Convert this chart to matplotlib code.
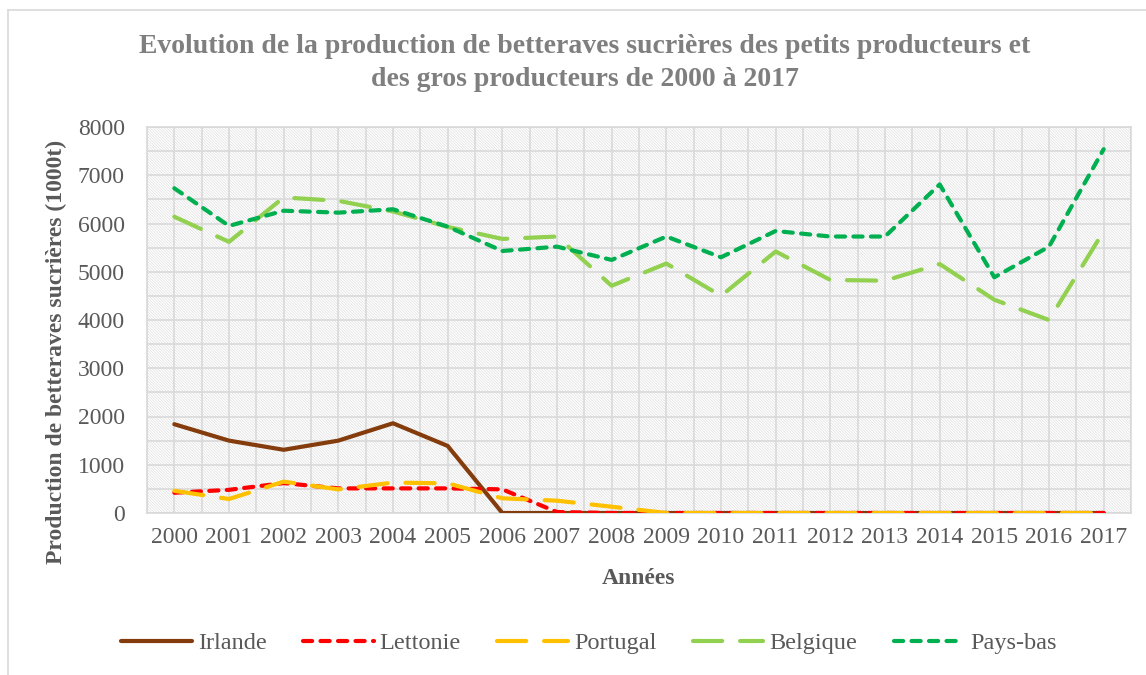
import matplotlib
matplotlib.use("Agg")
import matplotlib.pyplot as plt
from matplotlib.patches import Rectangle
from matplotlib.lines import Line2D
import numpy as np

# data (1000 t)
years = [str(y) for y in range(2000, 2018)]
irlande = [1840, 1500, 1310, 1500, 1860, 1390, 0, 0, 0, 0, 0, 0, 0, 0, 0, 0, 0, 0]
lettonie = [420, 480, 620, 510, 510, 510, 490, 20, 0, 0, 0, 0, 0, 0, 0, 0, 0, 0]
portugal = [460, 290, 650, 490, 630, 615, 305, 255, 130, 0, 0, 0, 0, 0, 0, 0, 0, 0]
belgique = [6140, 5620, 6540, 6470, 6250, 5930, 5680, 5730, 4710, 5170,
            4500, 5420, 4830, 4815, 5160, 4420, 4000, 5840]
pays_bas = [6730, 5950, 6265, 6225, 6295, 5935, 5430, 5520, 5245, 5730,
            5300, 5845, 5730, 5730, 6810, 4885, 5520, 7540]

plt.rcParams['font.family'] = ['Liberation Serif', 'DejaVu Serif']
plt.rcParams['hatch.linewidth'] = 0.4
plt.rcParams['hatch.color'] = '#D8D8D8'

fig = plt.figure(figsize=(11.46, 6.75), dpi=100)
ax = fig.add_axes([147/1146, 1-513/675, (1131-147)/1146, 386/675])

x = np.arange(len(years))

# hatched background
ax.add_patch(Rectangle((0, 0), 1, 1, transform=ax.transAxes, facecolor='white',
                       edgecolor='#D8D8D8', hatch='\\' * 12, lw=0, zorder=0))

ax.plot(x, irlande, color='#843C0C', lw=3, solid_capstyle='round', label='Irlande', zorder=3)
ax.plot(x, lettonie, color='#FF0000', lw=3, ls=(0, (2.2, 2.0)), dash_capstyle='round',
        label='Lettonie', zorder=3)
ax.plot(x, portugal, color='#FFC000', lw=3, ls=(0, (7, 4.3)), dash_capstyle='round',
        label='Portugal', zorder=3)
ax.plot(x, belgique, color='#92D050', lw=3, ls=(0, (7, 4.3)), dash_capstyle='round',
        label='Belgique', zorder=3)
ax.plot(x, pays_bas, color='#00B050', lw=3, ls=(0, (2.2, 2.0)), dash_capstyle='round',
        label='Pays-bas', zorder=3)

ax.set_xlim(-0.5, len(years) - 0.5)
ax.set_ylim(0, 8000)
ax.set_xticks(x)
ax.set_xticklabels(years)
ax.set_xticks(np.arange(-0.5, len(years), 1), minor=True)
ax.set_yticks(range(0, 8001, 1000))
ax.set_yticks(range(500, 8000, 1000), minor=True)
ax.grid(True, which='both', color='#D9D9D9', lw=1.2, zorder=1)
ax.set_axisbelow(True)
ax.tick_params(which='both', length=0)
ax.tick_params(axis='x', labelsize=17, colors='#595959', pad=10)
ax.tick_params(axis='y', labelsize=17, colors='#595959', pad=16)
for s in ax.spines.values():
    s.set_color('#D9D9D9')
    s.set_linewidth(1.2)

fig.text(639/1146, 1-578/675, 'Années', ha='center', va='center', fontsize=17,
         fontweight='bold', color='#595959')
fig.text(56/1146, 1-352/675, 'Production de betteraves sucrières (1000t)', rotation=90,
         ha='center', va='center', fontsize=17, fontweight='bold', color='#595959')

fig.text(585/1146, 1-63/675,
         'Evolution de la production de betteraves sucrières des petits producteurs et\n'
         'des gros producteurs de 2000 à 2017',
         ha='center', va='center', fontsize=20, fontweight='bold', color='#7F7F7F',
         linespacing=1.38)

fig.legend(loc='center', bbox_to_anchor=(589/1146, 1-643/675), ncol=5, frameon=False,
           fontsize=17.5, labelcolor='#595959', handlelength=2.9, handletextpad=0.25,
           columnspacing=1.5)

# outer chart border (left and top visible)
fig.add_artist(Line2D([8/1146, 8/1146], [0, 1-10/675], color='#D9D9D9', lw=1.2))
fig.add_artist(Line2D([8/1146, 1], [1-10/675, 1-10/675], color='#D9D9D9', lw=1.2))

fig.savefig('out.png', dpi=100)
